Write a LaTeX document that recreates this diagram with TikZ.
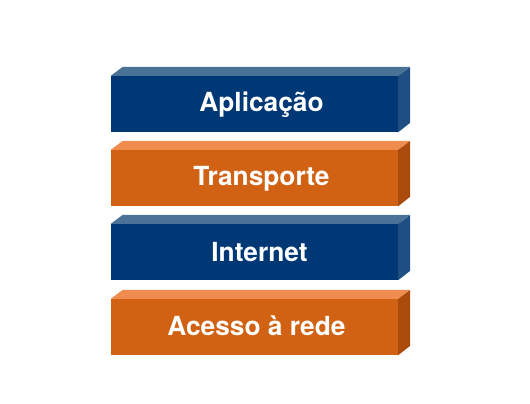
\documentclass[tikz,border=0pt]{standalone}
\usepackage{fontspec}
\setmainfont{TeX Gyre Heros}
\usetikzlibrary{positioning}

\definecolor{azulFrente}{HTML}{003876}
\definecolor{azulTopo}{HTML}{4A7296}
\definecolor{azulLado}{HTML}{1F4F82}
\definecolor{laranjaFrente}{HTML}{D16214}
\definecolor{laranjaTopo}{HTML}{F08D4E}
\definecolor{laranjaLado}{HTML}{AA4B0B}

\begin{document}
\begin{tikzpicture}[
  x=1pt, y=-1pt,
  camada/.style={minimum width=287pt, minimum height=56pt, inner sep=0pt},
  rotulo/.style={text=white, inner sep=0pt, text height=19pt, text depth=0pt,
    font=\bfseries\fontsize{26.3}{30}\selectfont}
]
  \useasboundingbox (0,0) rectangle (530,404);

  \node[camada, fill=azulFrente,    label={[rotulo, xshift=7pt, yshift=2pt]center:Aplicação}]     (app)   at (254.5,104) {};
  \node[camada, fill=laranjaFrente, label={[rotulo, xshift=7pt, yshift=2pt]center:Transporte}]    (trans) at (254.5,178) {};
  \node[camada, fill=azulFrente,    label={[rotulo, xshift=5pt]center:Internet}]                  (inet)  at (254.5,252) {};
  \node[camada, fill=laranjaFrente, label={[rotulo, xshift=2pt, yshift=1pt]center:Acesso à rede}] (acc)   at (254.5,327) {};

  % faces de cima e do lado
  \foreach \n/\c in {app/azul, trans/laranja, inet/azul, acc/laranja} {
    \fill[\c Topo] (\n.north west) -- ++(12,-9) -- ++(287,0) -- (\n.north east) -- cycle;
    \fill[\c Lado] (\n.north east) -- ++(12,-9) -- ++(0,56) -- (\n.south east) -- cycle;
  }
\end{tikzpicture}
\end{document}
